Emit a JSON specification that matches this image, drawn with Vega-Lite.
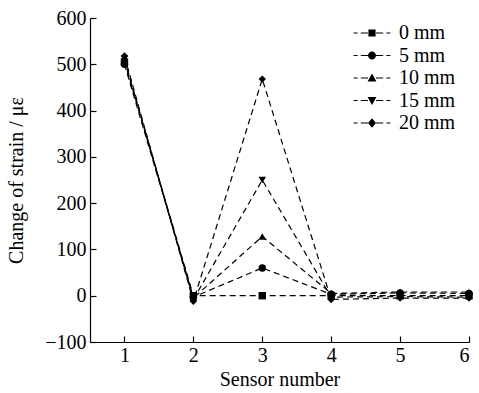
{
  "$schema": "https://vega.github.io/schema/vega-lite/v6.json",
  "width": 379,
  "height": 324,
  "autosize": "none",
  "padding": {"left": 90, "top": 18, "right": 10, "bottom": 51},
  "background": "white",
  "config": {
    "view": {"stroke": null},
    "font": "Liberation Serif, Times New Roman, serif",
    "axis": {"grid": false, "domainColor": "black", "tickColor": "black", "labelColor": "black", "titleColor": "black", "labelFont": "Liberation Serif, Times New Roman, serif", "titleFont": "Liberation Serif, Times New Roman, serif", "labelFontSize": 20, "titleFontSize": 20, "titleFontWeight": "normal", "tickSize": -6, "domainWidth": 1.2, "tickWidth": 1.2}
  },
  "data": {"values": [
    {"sensor": 1, "strain": 505, "series": "0 mm"},
    {"sensor": 2, "strain": 0, "series": "0 mm"},
    {"sensor": 3, "strain": 0, "series": "0 mm"},
    {"sensor": 4, "strain": 0, "series": "0 mm"},
    {"sensor": 5, "strain": 0, "series": "0 mm"},
    {"sensor": 6, "strain": 0, "series": "0 mm"},
    {"sensor": 1, "strain": 500, "series": "5 mm"},
    {"sensor": 2, "strain": -3, "series": "5 mm"},
    {"sensor": 3, "strain": 60, "series": "5 mm"},
    {"sensor": 4, "strain": 3, "series": "5 mm"},
    {"sensor": 5, "strain": 6, "series": "5 mm"},
    {"sensor": 6, "strain": 5, "series": "5 mm"},
    {"sensor": 1, "strain": 510, "series": "10 mm"},
    {"sensor": 2, "strain": -5, "series": "10 mm"},
    {"sensor": 3, "strain": 128, "series": "10 mm"},
    {"sensor": 4, "strain": 5, "series": "10 mm"},
    {"sensor": 5, "strain": 8, "series": "10 mm"},
    {"sensor": 6, "strain": 8, "series": "10 mm"},
    {"sensor": 1, "strain": 512, "series": "15 mm"},
    {"sensor": 2, "strain": -8, "series": "15 mm"},
    {"sensor": 3, "strain": 250, "series": "15 mm"},
    {"sensor": 4, "strain": -3, "series": "15 mm"},
    {"sensor": 5, "strain": -2, "series": "15 mm"},
    {"sensor": 6, "strain": -3, "series": "15 mm"},
    {"sensor": 1, "strain": 518, "series": "20 mm"},
    {"sensor": 2, "strain": -12, "series": "20 mm"},
    {"sensor": 3, "strain": 468, "series": "20 mm"},
    {"sensor": 4, "strain": -8, "series": "20 mm"},
    {"sensor": 5, "strain": -5, "series": "20 mm"},
    {"sensor": 6, "strain": -5, "series": "20 mm"}
  ]},
  "encoding": {
    "x": {"field": "sensor", "type": "quantitative", "scale": {"domain": [0.5, 6], "nice": false, "zero": false}, "axis": {"values": [1, 2, 3, 4, 5, 6], "title": "Sensor number", "titlePadding": 4, "labelPadding": 9}},
    "y": {"field": "strain", "type": "quantitative", "scale": {"domain": [-100, 600], "nice": false}, "axis": {"values": [-100, 0, 100, 200, 300, 400, 500, 600], "title": "Change of strain / με", "titlePadding": 18, "labelPadding": 10}}
  },
  "resolve": {"scale": {"shape": "independent"}, "legend": {"shape": "independent"}},
  "layer": [
    {"mark": {"type": "line", "color": "black", "strokeWidth": 1.2, "strokeDash": [6, 4]}, "encoding": {"detail": {"field": "series"}}},
    {"mark": {"type": "point", "filled": true, "color": "black", "opacity": 1, "size": 55},
     "encoding": {"shape": {"field": "series", "type": "nominal",
       "scale": {"domain": ["0 mm", "5 mm", "10 mm", "15 mm", "20 mm"], "range": ["square", "circle", "triangle-up", "triangle-down", "diamond"]},
       "legend": null}}},
    {"mark": {"type": "point", "filled": true, "color": "black", "opacity": 0, "size": 1},
     "encoding": {"shape": {"field": "series", "type": "nominal",
       "scale": {"domain": ["0 mm", "5 mm", "10 mm", "15 mm", "20 mm"], "range": [
         "M-0.9,-0.9H0.9V0.9H-0.9Z M-4.6,-0.15H-3.6V0.15H-4.6Z M-2.8,-0.15H-1V0.15H-2.8Z M1,-0.15H2.8V0.15H1Z M3.6,-0.15H4.6V0.15H3.6Z",
         "M-1,0A1,1,0,1,1,1,0A1,1,0,1,1,-1,0Z M-4.6,-0.15H-3.6V0.15H-4.6Z M-2.8,-0.15H-1V0.15H-2.8Z M1,-0.15H2.8V0.15H1Z M3.6,-0.15H4.6V0.15H3.6Z",
         "M0,-1.1L1.1,0.9H-1.1Z M-4.6,-0.15H-3.6V0.15H-4.6Z M-2.8,-0.15H-1V0.15H-2.8Z M1,-0.15H2.8V0.15H1Z M3.6,-0.15H4.6V0.15H3.6Z",
         "M0,1.1L1.1,-0.9H-1.1Z M-4.6,-0.15H-3.6V0.15H-4.6Z M-2.8,-0.15H-1V0.15H-2.8Z M1,-0.15H2.8V0.15H1Z M3.6,-0.15H4.6V0.15H3.6Z",
         "M0,-1.2L1,0L0,1.2L-1,0Z M-4.6,-0.15H-3.6V0.15H-4.6Z M-2.8,-0.15H-1V0.15H-2.8Z M1,-0.15H2.8V0.15H1Z M3.6,-0.15H4.6V0.15H3.6Z"]},
       "legend": {"title": null, "orient": "none", "legendX": 272, "legendY": 5, "padding": 0, "labelFont": "Liberation Serif, Times New Roman, serif", "labelFontSize": 20, "labelColor": "black", "symbolFillColor": "black", "symbolStrokeColor": "black", "symbolStrokeWidth": 0, "symbolOpacity": 1, "symbolSize": 64, "rowPadding": 2.5, "labelOffset": 17}}}}
  ]
}
